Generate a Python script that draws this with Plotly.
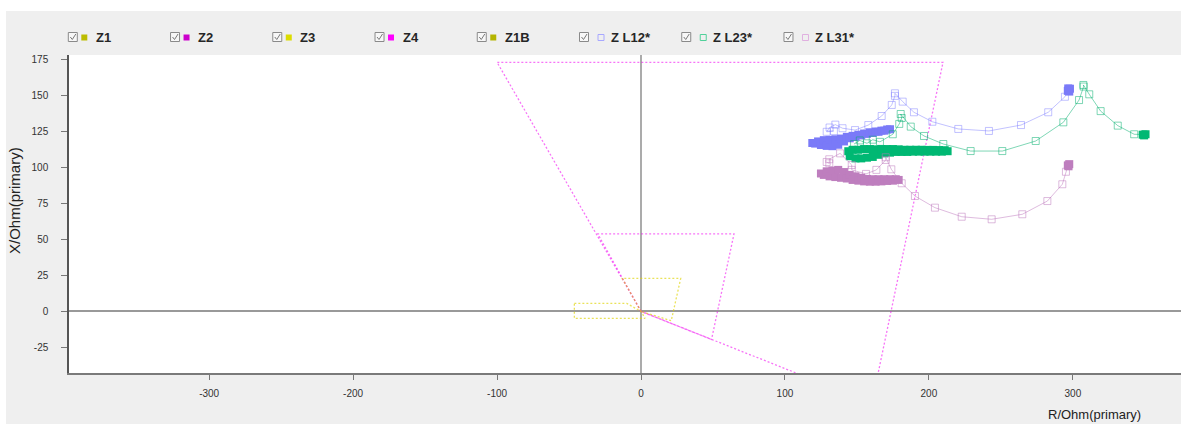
import plotly.graph_objects as go

# ---------------- data (R / X in ohm primary) ----------------
# zone polygons
Z1_R = [0, -13.0, 27.6, 21.0, 0]
Z1_X = [0, 23.0, 23.0, -6.5, 0]
Z2_R = [0, -30.0, 64.6, 49.0, 0]
Z2_X = [0, 53.9, 53.9, -19.5, 0]
Z3_R = [-46.3, -9.9, 0, 2.8, -46.3, -46.3]
Z3_X = [5.6, 5.6, 0, -4.8, -4.8, 5.6]
Z4_R = [0, -100.0, 209.8, 160.4, 0]
Z4_X = [0, 173.4, 173.4, -63.8, 0]

# loop impedance trajectories (sampled points)
L12_R = [296.8, 294.5, 282.9, 264.0, 241.7, 220.4, 202.4, 189.6, 181.8, 176.4, 176.4, 174.2,
         167.2, 157.9, 148.7, 140.0, 135.0, 131.0, 129.0, 134.0]
L12_X = [154.1, 149.4, 138.6, 129.7, 125.6, 127.0, 132.0, 138.6, 146.0, 151.8, 150.0, 143.7,
         136.0, 129.7, 126.2, 127.5, 130.0, 128.0, 125.0, 125.5]
L12_BAND_R = [119, 121, 123, 125, 127, 129, 131, 133, 135, 137, 139, 141, 143, 145, 147, 149,
              151, 153, 155, 157, 159, 161, 163, 165, 167, 169, 171, 173]
L12_BAND_X = [117.2, 116.8, 118.3, 115.8, 119.2, 115.2, 119.4, 115.0, 119.8, 116.0, 120.3, 118.3,
              121.5, 120.5, 122.2, 121.5, 123.0, 122.5, 123.8, 123.6, 124.5, 124.3, 125.2, 125.0,
              125.8, 125.8, 126.6, 126.8]
L12_END_R = [296.5, 298.0, 297.5, 296.8]
L12_END_X = [153.5, 155.0, 153.0, 155.2]

L23_R = [349.5, 342.6, 331.2, 319.3, 311.4, 307.3, 307.5, 304.3, 293.4, 274.2, 251.0, 229.0,
         210.0, 196.6, 187.4, 180.4, 181.1, 179.4, 174.9, 166.0, 161.0, 157.0, 152.0, 148.0]
L23_X = [123.1, 123.3, 129.3, 139.4, 151.1, 157.6, 156.5, 147.1, 131.6, 118.6, 111.6, 111.6,
         116.5, 122.1, 128.6, 137.4, 134.6, 130.5, 123.3, 118.0, 119.5, 117.0, 119.0, 116.5]
L23_BAND_R = [144, 145, 147, 149, 151, 153, 155, 157, 159, 161, 163, 165, 167, 169, 171, 173,
              175, 177, 179, 181, 183, 185, 187, 189, 191, 193, 195, 197, 199, 201, 203, 205,
              207, 209, 211, 213]
L23_BAND_X = [111.5, 108.0, 112.5, 106.5, 112.5, 106.5, 113.0, 107.0, 113.0, 107.5, 112.8, 109.0,
              113.0, 110.0, 113.0, 110.5, 113.0, 111.0, 112.8, 111.0, 112.5, 111.0, 112.5, 111.2,
              112.5, 111.2, 112.5, 111.2, 112.4, 111.2, 112.4, 111.2, 112.3, 111.2, 112.2, 111.5]
L23_END_R = [348.5, 350.5, 349.5]
L23_END_X = [123.0, 123.3, 122.5]

L31_R = [296.8, 295.2, 292.7, 282.3, 264.9, 243.6, 222.8, 204.2, 190.3, 181.1, 173.9, 170.0,
         170.0, 163.5, 156.3, 146.4, 146.4, 138.3, 130.8, 130.8, 129.0]
L31_X = [102.0, 97.2, 88.5, 76.8, 67.6, 64.1, 65.9, 72.2, 80.3, 89.2, 98.9, 107.3,
         105.4, 98.5, 95.7, 98.5, 101.9, 110.0, 105.9, 103.1, 104.0]
L31_BAND_R = [125, 127, 129, 131, 133, 135, 137, 139, 141, 143, 145, 147, 149, 151, 153, 155,
              157, 159, 161, 163, 165, 167, 169, 171, 173, 175, 177, 179]
L31_BAND_X = [96.0, 95.0, 97.5, 94.0, 98.0, 93.5, 98.5, 93.0, 97.0, 92.5, 95.0, 91.5, 94.0, 91.0,
              93.0, 90.5, 92.2, 90.3, 92.0, 90.3, 92.0, 90.5, 92.0, 90.8, 92.0, 91.0, 92.0, 91.5]
L31_END_R = [296.5, 297.5, 297.0]
L31_END_X = [101.5, 102.5, 101.0]

# legend
LEGEND_NAMES = ["Z1", "Z2", "Z3", "Z4", "Z1B", "Z L12*", "Z L23*", "Z L31*"]
LEGEND_COLORS = ["#bcbc00", "#cc00cc", "#dcdc00", "#ff00ff", "#b4b400", "#a8a8ff", "#50d09a", "#e0b0e0"]
LEGEND_FILLED = [True, True, True, True, True, False, False, False]

X_TICKS = [-300, -200, -100, 0, 100, 200, 300]
Y_TICKS = [-25, 0, 25, 50, 75, 100, 125, 150, 175]

# ---------------- layout geometry ----------------
W, H = 1181, 424
ML, MR, MT, MB = 69, 0, 55, 51
PW, PH = W - ML - MR, H - MT - MB
FONT = "Liberation Sans, Arial, sans-serif"


def pxx(px):
    return (px - ML) / PW


def pxy(py):
    return (H - MB - py) / PH


fig = go.Figure()

YELLOW_LINE = "rgba(222,210,0,0.65)"
MAG_LINE = "rgba(240,0,240,0.55)"
for r, x, c in [(Z4_R, Z4_X, MAG_LINE), (Z2_R, Z2_X, MAG_LINE),
                (Z1_R, Z1_X, YELLOW_LINE), (Z3_R, Z3_X, YELLOW_LINE)]:
    fig.add_trace(go.Scatter(x=r, y=x, mode="lines", showlegend=False, hoverinfo="skip",
                             line=dict(color=c, width=1.3, dash="2px,2px")))

series = [
    (L12_R, L12_X, L12_BAND_R, L12_BAND_X, L12_END_R, L12_END_X,
     "rgba(120,120,255,0.45)", "rgb(122,122,248)"),
    (L23_R, L23_X, L23_BAND_R, L23_BAND_X, L23_END_R, L23_END_X,
     "rgba(0,175,110,0.5)", "rgb(0,184,115)"),
    (L31_R, L31_X, L31_BAND_R, L31_BAND_X, L31_END_R, L31_END_X,
     "rgba(190,120,190,0.5)", "rgb(190,126,190)"),
]
for r, x, br, bx, er, ex, light, solid in series:
    fig.add_trace(go.Scatter(x=r, y=x, mode="lines+markers", showlegend=False,
                             line=dict(color=light, width=1),
                             marker=dict(symbol="square-open", size=7, color=light,
                                         line=dict(width=1, color=light))))
    fig.add_trace(go.Scatter(x=br, y=bx, mode="markers", showlegend=False,
                             marker=dict(symbol="square", size=8, color=solid, line=dict(width=0))))
    fig.add_trace(go.Scatter(x=er, y=ex, mode="markers", showlegend=False,
                             marker=dict(symbol="square", size=8, color=solid, line=dict(width=0))))

shapes = []
annotations = []
# white outer strips (top and left)
shapes.append(dict(type="rect", xref="paper", yref="paper", x0=pxx(-5), x1=pxx(W + 5),
                   y0=pxy(11), y1=pxy(-5), fillcolor="white", line=dict(width=0), layer="below"))
shapes.append(dict(type="rect", xref="paper", yref="paper", x0=pxx(-5), x1=pxx(6),
                   y0=pxy(H + 5), y1=pxy(-5), fillcolor="white", line=dict(width=0), layer="below"))

# manual legend (checkbox, symbol, label)
for i, (name, col, filled) in enumerate(zip(LEGEND_NAMES, LEGEND_COLORS, LEGEND_FILLED)):
    x0 = 68.3 + 102.24 * i
    shapes.append(dict(type="rect", xref="paper", yref="paper", x0=pxx(x0), x1=pxx(x0 + 9),
                       y0=pxy(41.5), y1=pxy(32.5), fillcolor="#f7f7f7",
                       line=dict(color="#8a8a8a", width=1)))
    shapes.append(dict(type="path", xref="paper", yref="paper",
                       path=f"M {pxx(x0 + 2)},{pxy(37)} L {pxx(x0 + 4)},{pxy(39.5)} L {pxx(x0 + 7.5)},{pxy(34)}",
                       line=dict(color="#7a7a7a", width=1)))
    if filled:
        sx, tx = x0 + 13, x0 + 25.5
        shapes.append(dict(type="rect", xref="paper", yref="paper", x0=pxx(sx), x1=pxx(sx + 6),
                           y0=pxy(40.5), y1=pxy(34.5), fillcolor=col, line=dict(width=0)))
    else:
        sx, tx = x0 + 18.5, x0 + 29
        shapes.append(dict(type="rect", xref="paper", yref="paper", x0=pxx(sx), x1=pxx(sx + 6),
                           y0=pxy(40.5), y1=pxy(34.5), fillcolor="rgba(0,0,0,0)",
                           line=dict(color=col, width=1)))
    annotations.append(dict(xref="paper", yref="paper", x=pxx(tx), y=pxy(37.5), xanchor="left",
                            yanchor="middle", text=name, showarrow=False,
                            font=dict(family=FONT, size=13, color="#262626", weight="bold")))

# axis titles
annotations.append(dict(xref="paper", yref="paper", x=pxx(1094), y=pxy(414), xanchor="center",
                        yanchor="middle", text="R/Ohm(primary)", showarrow=False,
                        font=dict(family=FONT, size=13, color="#222")))
annotations.append(dict(xref="paper", yref="paper", x=pxx(14), y=pxy(201), xanchor="center",
                        yanchor="middle", text="X/Ohm(primary)", showarrow=False, textangle=-90,
                        font=dict(family=FONT, size=15, color="#222")))

x_scale = 1.4395
y_scale = 1.4367
x0_px, y0_px = 641.0, 311.4
x_range = [(ML - x0_px) / x_scale, (W - MR - x0_px) / x_scale]
y_range = [(y0_px - (H - MB)) / y_scale, (y0_px - MT) / y_scale]

fig.update_layout(
    width=W, height=H,
    margin=dict(l=ML, r=MR, t=MT, b=MB, pad=0),
    paper_bgcolor="#efefef",
    plot_bgcolor="white",
    showlegend=False,
    shapes=shapes,
    annotations=annotations,
    font=dict(family=FONT, size=10, color="#333"),
    xaxis=dict(range=x_range, tickvals=X_TICKS, ticktext=[str(v) for v in X_TICKS],
               showgrid=False, zeroline=True, zerolinecolor="#ababab", zerolinewidth=2,
               showline=True, linecolor="#7a7a7a", linewidth=1.5,
               ticks="outside", ticklen=5, tickcolor="#777", ticklabelstandoff=5,
               tickfont=dict(family=FONT, size=10, color="#333")),
    yaxis=dict(range=y_range, tickvals=Y_TICKS, ticktext=[str(v) for v in Y_TICKS],
               showgrid=False, zeroline=True, zerolinecolor="#999999", zerolinewidth=1.5,
               showline=True, linecolor="#555", linewidth=1.5,
               ticks="outside", ticklen=6, tickcolor="#777", ticklabelstandoff=11,
               tickfont=dict(family=FONT, size=10, color="#333")),
)

fig.write_html("out.html", config={"displayModeBar": False},
               post_script="document.body.style.margin='0';document.body.style.overflow='hidden';")
